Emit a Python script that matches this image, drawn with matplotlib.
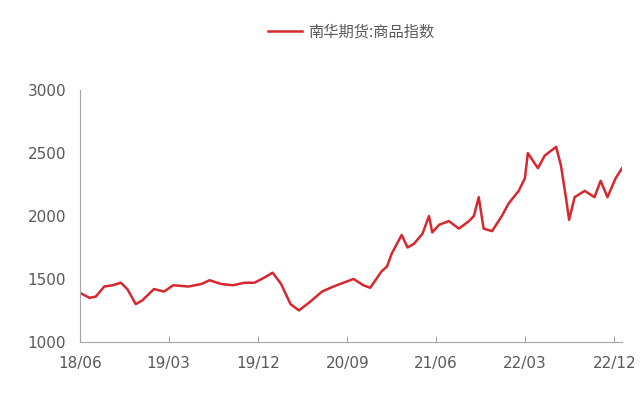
import matplotlib
matplotlib.use("Agg")
import matplotlib.pyplot as plt
import pandas as pd

dates = ["2018-06-01","2018-07-01","2018-07-20","2018-08-15","2018-09-10","2018-10-05","2018-10-25","2018-11-20","2018-12-10","2019-01-15","2019-02-15",
         "2019-03-15","2019-05-01","2019-06-10","2019-07-05","2019-08-10","2019-09-15","2019-10-20","2019-11-20","2019-12-20","2020-01-15",
         "2020-02-10","2020-03-10","2020-04-05","2020-05-10","2020-06-15","2020-07-20","2020-08-20","2020-09-20","2020-10-20","2020-11-10",
         "2020-12-15","2021-01-01","2021-01-15","2021-02-15","2021-03-05","2021-03-25","2021-04-20","2021-05-10","2021-05-20","2021-06-10",
         "2021-07-10","2021-08-10","2021-09-10","2021-09-25","2021-10-10","2021-10-25","2021-11-20","2021-12-20","2022-01-10","2022-02-10",
         "2022-03-01","2022-03-10","2022-04-10","2022-05-01","2022-06-05","2022-06-20","2022-07-05","2022-07-15","2022-08-01","2022-09-01",
         "2022-10-01","2022-10-20","2022-11-10","2022-12-05","2022-12-25"]
values = [1390,1350,1360,1440,1450,1470,1420,1300,1330,1420,1400,
          1450,1440,1460,1490,1460,1450,1470,1470,1510,1550,
          1460,1300,1250,1320,1400,1440,1470,1500,1450,1430,
          1560,1600,1700,1850,1750,1780,1860,2000,1870,1930,
          1960,1900,1960,2000,2150,1900,1880,2000,2100,2200,
          2300,2500,2380,2480,2550,2400,2150,1970,2150,2200,
          2150,2280,2150,2300,2380]
tick_dates = ["2018-06-01","2019-03-01","2019-12-01","2020-09-01","2021-06-01","2022-03-01","2022-12-01"]
tick_labels = ["18/06","19/03","19/12","20/09","21/06","22/03","22/12"]
series_name = "南华期货:商品指数"

gray = "#595959"
fig = plt.figure(figsize=(6.44, 4.08), dpi=100)
ax = fig.add_axes([0.124, 0.162, 0.842, 0.617])
x = pd.to_datetime(dates)
ax.plot(x, values, color="#d7282f", lw=1.8, label=series_name)
ax.set_xlim(pd.Timestamp("2018-06-01"), pd.Timestamp("2022-12-25"))
ax.set_ylim(1000, 3000)
ax.set_yticks([1000,1500,2000,2500,3000])
ax.set_xticks(pd.to_datetime(tick_dates))
ax.set_xticklabels(tick_labels)
for s in ["top","right"]:
    ax.spines[s].set_visible(False)
for s in ["left","bottom"]:
    ax.spines[s].set_color("#a6a6a6")
ax.tick_params(colors=gray, labelsize=11, length=4)
ax.tick_params(axis="y", length=0, pad=10)
ax.tick_params(axis="x", direction="in", color="#a6a6a6", pad=10)
ax.legend(loc="upper center", bbox_to_anchor=(0.5, 1.32), frameon=False,
          prop={"family": "Noto Sans CJK SC", "size": 11}, labelcolor=gray,
          handlelength=2.2, handletextpad=0.4)
fig.savefig("out.png", dpi=100)
